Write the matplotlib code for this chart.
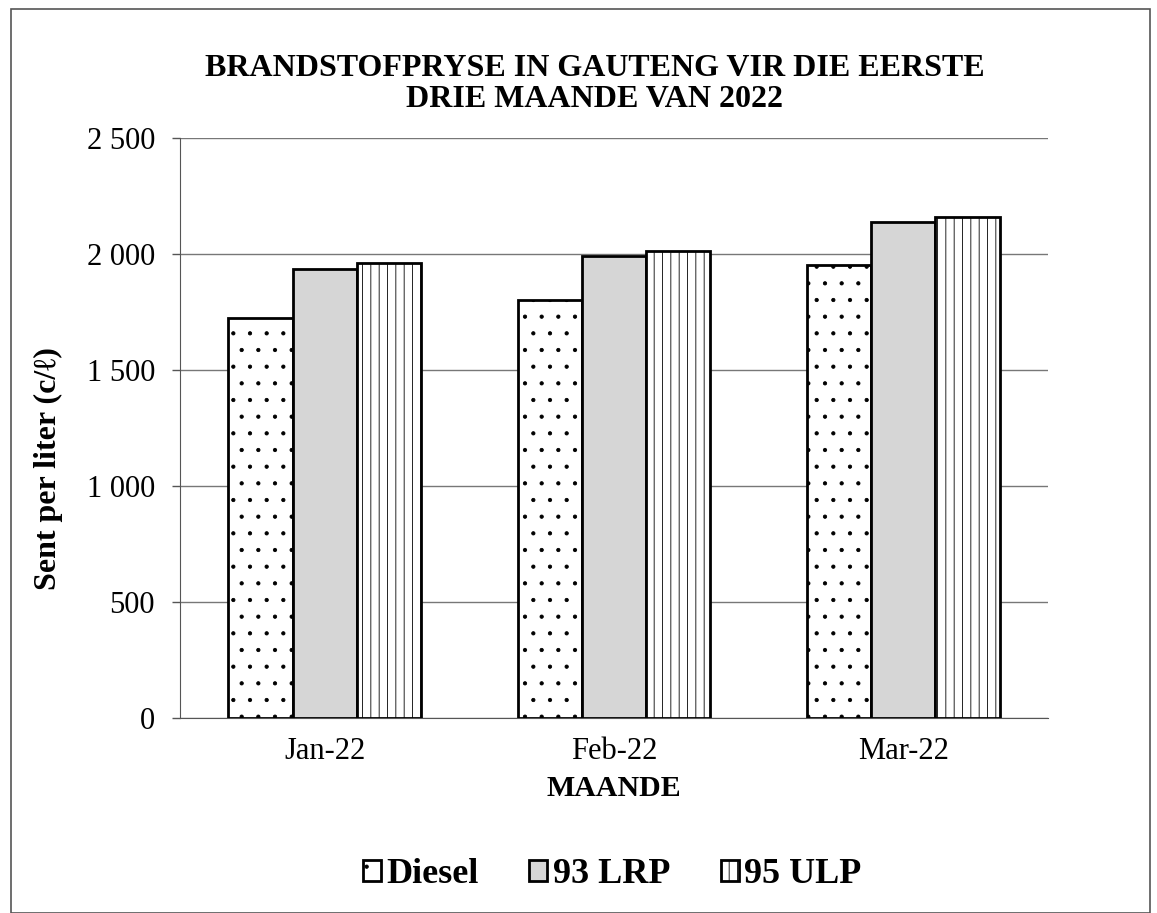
import numpy as np
import matplotlib.pyplot as plt
from matplotlib.patches import Rectangle
from matplotlib.ticker import FuncFormatter

plt.rcParams['font.family'] = ['Liberation Serif', 'DejaVu Serif']
plt.rcParams['hatch.linewidth'] = 0.6

# data
months = ['Jan-22', 'Feb-22', 'Mar-22']
diesel = [1725, 1802, 1952]
lrp93 = [1937, 1991, 2136]
ulp95 = [1962, 2014, 2161]

fig = plt.figure(figsize=(11.57, 9.13), dpi=100)
ax = fig.add_axes([0.1556, 0.2136, 0.7502, 0.6353])

# outer frame round the chart
fig.patches.append(Rectangle((0.0095, 0.0), 0.9845, 0.990, transform=fig.transFigure,
                             fill=False, edgecolor='#555555', linewidth=1.2))

x = np.arange(len(months))
w = 0.222
ax.bar(x - w, diesel, w, color='white', edgecolor='black', linewidth=2, hatch='.', label='Diesel', zorder=3)
ax.bar(x, lrp93, w, color='#d6d6d6', edgecolor='black', linewidth=2, label='93 LRP', zorder=3)
ax.bar(x + w, ulp95, w, color='white', edgecolor='black', linewidth=2, hatch='||', label='95 ULP', zorder=3)

ax.set_xlim(-0.5, 2.5)
ax.set_ylim(0, 2500)
ax.set_yticks(range(0, 2501, 500))
ax.yaxis.set_major_formatter(FuncFormatter(lambda v, p: f"{int(v):,}".replace(',', ' ')))
ax.set_xticks(x)
ax.set_xticklabels(months)
ax.tick_params(axis='y', labelsize=22, length=6, width=1, color='#555555', pad=12)
ax.tick_params(axis='x', labelsize=22, length=0, pad=14)
ax.grid(axis='y', color='#777777', linewidth=1, zorder=0)

for s in ['top', 'right']:
    ax.spines[s].set_visible(False)
ax.spines['left'].set_color('#555555')
ax.spines['bottom'].set_color('#555555')

ax.set_xlabel('MAANDE', fontsize=21.5, fontweight='bold', labelpad=6)
ax.set_ylabel('Sent per liter (c/ℓ)', fontsize=23, fontweight='bold')
ax.yaxis.set_label_coords(-0.135, 0.43)
fig.text(0.514, 0.908, 'BRANDSTOFPRYSE IN GAUTENG VIR DIE EERSTE\nDRIE MAANDE VAN 2022',
         ha='center', va='center', fontsize=23, fontweight='bold', linespacing=1.1)

fig.legend(loc='center', bbox_to_anchor=(0.529, 0.042), ncol=3, frameon=False,
           prop={'size': 26, 'weight': 'bold'}, handlelength=0.5, handleheight=0.5,
           handletextpad=0.15, columnspacing=1.4)

plt.savefig('out.png', dpi=100)
